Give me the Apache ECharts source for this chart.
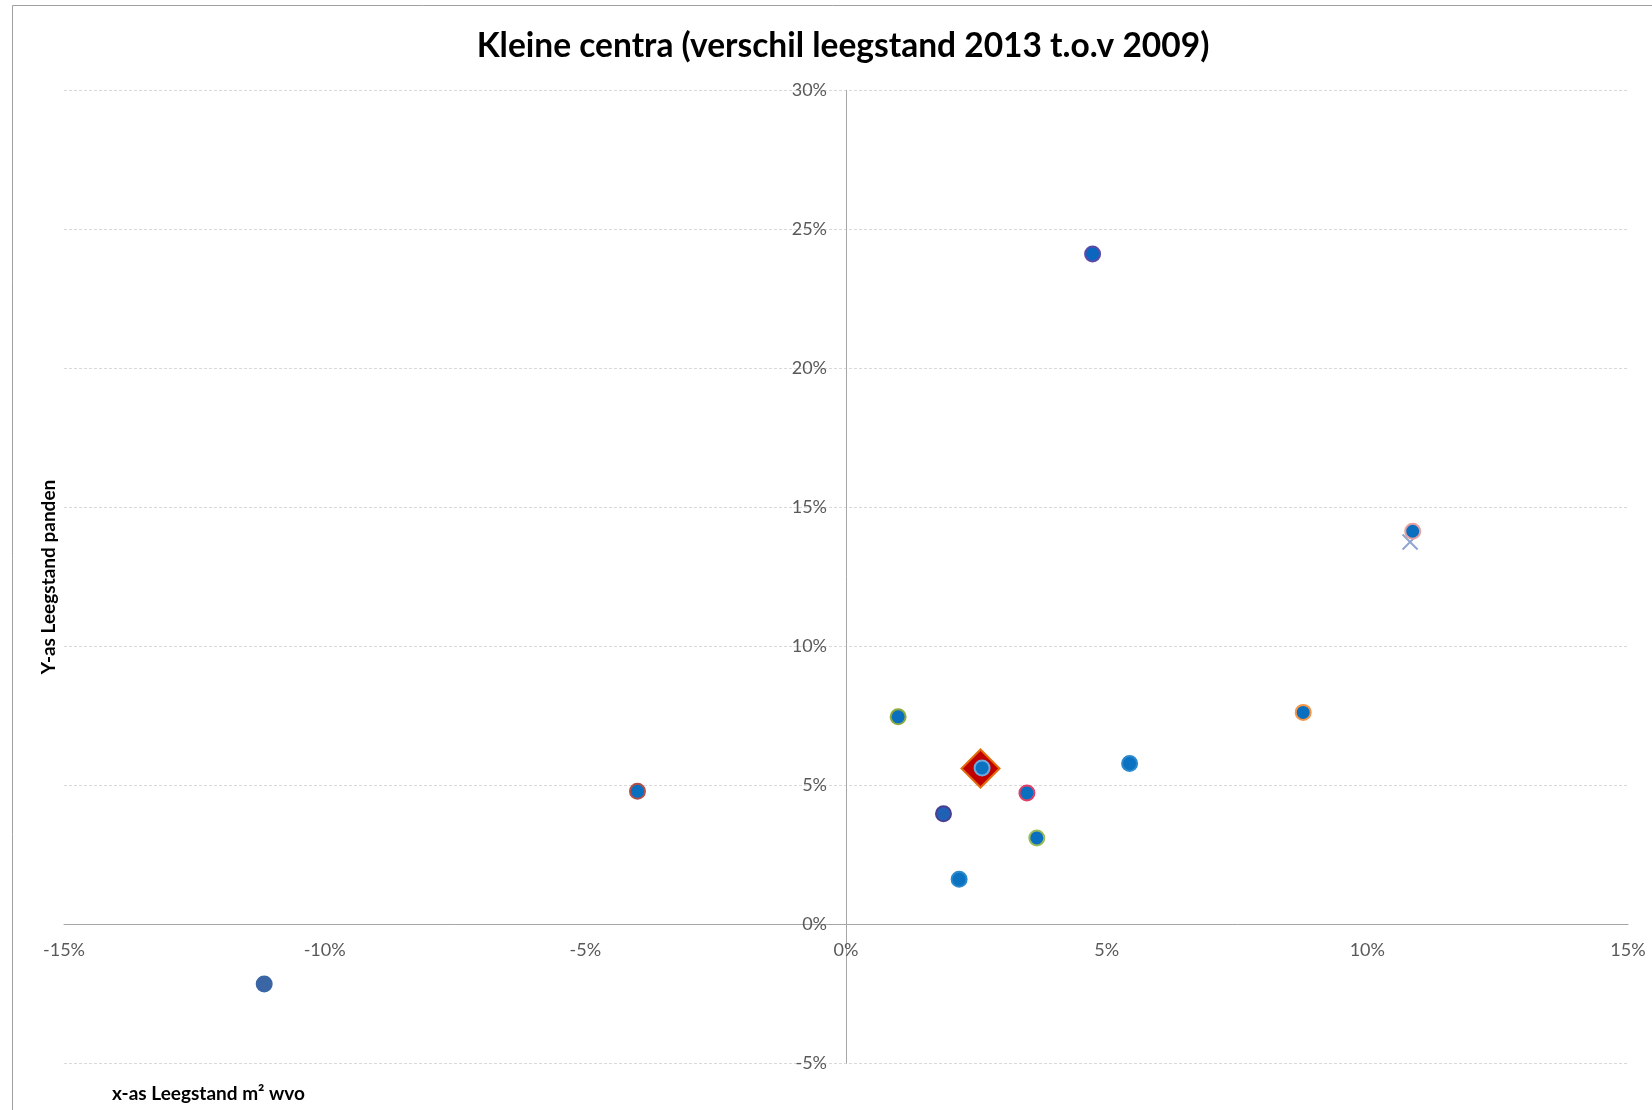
<!DOCTYPE html>
<html>
<head>
<meta charset="utf-8">
<script src="https://cdn.jsdelivr.net/npm/echarts@6/dist/echarts.min.js"></script>
<style>
html,body{margin:0;padding:0;background:#fff;}
#chart{width:1652px;height:1110px;}
</style>
</head>
<body>
<div id="chart"></div>
<script>
// Data (percent)
const xLeegstandM2 = [-11.16, -4.00, 1.00, 1.87, 2.17, 2.61, 3.47, 3.66, 4.73, 5.44, 8.77, 10.87];
const yLeegstandPanden = [-2.16, 4.78, 7.46, 3.97, 1.61, 5.62, 4.72, 3.10, 24.12, 5.78, 7.62, 14.14];
const gemiddeldeX = [2.58];
const gemiddeldeY = [5.60];
const kruisX = [10.82];
const kruisY = [13.75];
const xTicks = [-15, -10, -5, 0, 5, 10, 15];
const yTicks = [-5, 0, 5, 10, 15, 20, 25, 30];

// Styles
const fillColors = ['#3A66A5', '#0B6FBF', '#0B6FBF', '#1F62B5', '#0B72C2', '#0B72C2', '#0B6FBF', '#0B6FBF', '#0B66C0', '#0B72C2', '#0B6FBF', '#0B6FBF'];
const borderColors = ['#3A66A5', '#B0504A', '#8DAA3C', '#4A3F93', '#2A88CC', '#6FA8DC', '#E0406A', '#9BBB59', '#5B4BA8', '#2A88CC', '#F79646', '#E6A0A0'];

const W = 1652, H = 1110;
const grid = { left: 64, right: 24, top: 90.6, bottom: 47 };
const plotW = W - grid.left - grid.right;
const plotH = H - grid.top - grid.bottom;
const xMin = xTicks[0], xMax = xTicks[xTicks.length - 1];
const yMin = yTicks[0], yMax = yTicks[yTicks.length - 1];
// move axes (line + labels) to the zero crossing
const xAxisOffset = -((0 - yMin) / (yMax - yMin)) * plotH;
const yAxisOffset = -((0 - xMin) / (xMax - xMin)) * plotW;

const chart = echarts.init(document.getElementById('chart'));
const font = 'Lato, "Open Sans", sans-serif';

const dots = xLeegstandM2.map((x, i) => ({
  value: [x, yLeegstandPanden[i]],
  itemStyle: { color: fillColors[i], borderColor: borderColors[i], borderWidth: 2 }
}));

chart.setOption({
  animation: false,
  backgroundColor: '#fff',
  title: {
    text: 'Kleine centra (verschil leegstand 2013 t.o.v 2009)',
    left: 838, top: 24, textAlign: 'center',
    textStyle: { fontFamily: font, fontWeight: 'bold', fontSize: 33.5, color: '#000' }
  },
  grid: Object.assign({ containLabel: false }, grid),
  xAxis: {
    type: 'value', min: xMin, max: xMax, interval: 5, position: 'bottom', offset: xAxisOffset,
    axisLine: { onZero: false, lineStyle: { color: '#A6A6A6', width: 1 } },
    axisTick: { show: false },
    splitLine: { show: false },
    axisLabel: { formatter: '{value}%', margin: 17, fontFamily: font, fontSize: 18, color: '#595959' }
  },
  yAxis: {
    type: 'value', min: yMin, max: yMax, interval: 5, position: 'left', offset: yAxisOffset,
    axisLine: { show: true, onZero: false, lineStyle: { color: '#A6A6A6', width: 1 } },
    axisTick: { show: false },
    splitLine: { show: true, lineStyle: { color: '#D9D9D9', type: [3, 2], width: 1 } },
    axisLabel: { formatter: '{value}%', margin: 19, fontFamily: font, fontSize: 18, color: '#595959' }
  },
  graphic: [
    { type: 'rect', silent: true, shape: { x: 12.5, y: 5.5, width: 1700, height: 1200 },
      style: { fill: 'none', stroke: '#A0A0A0', lineWidth: 1 } },
    { type: 'text', x: 49, y: 577, rotation: Math.PI / 2,
      style: { text: 'Y-as Leegstand panden', font: 'bold 19px ' + font, fill: '#000', textAlign: 'center', textVerticalAlign: 'middle' } },
    { type: 'text', x: 112, y: 1094,
      style: { text: 'x-as Leegstand m² wvo', font: 'bold 19px ' + font, fill: '#000', textAlign: 'left', textVerticalAlign: 'middle' } }
  ],
  series: [
    {
      name: 'Gemiddelde', type: 'scatter', symbol: 'diamond', symbolSize: 38,
      data: gemiddeldeX.map((x, i) => [x, gemiddeldeY[i]]),
      itemStyle: { color: '#C00000', borderColor: '#E46C0A', borderWidth: 2, opacity: 1 }
    },
    {
      name: 'Kruis', type: 'scatter', symbol: 'path://M0,0L10,10M10,0L0,10', symbolSize: 15,
      data: kruisX.map((x, i) => [x, kruisY[i]]),
      itemStyle: { color: 'none', borderColor: '#8FA6D0', borderWidth: 2, opacity: 1 }
    },
    {
      name: 'Centra', type: 'scatter', symbol: 'circle', symbolSize: 15,
      data: dots,
      itemStyle: { opacity: 1 }
    }
  ]
});
</script>
</body>
</html>
